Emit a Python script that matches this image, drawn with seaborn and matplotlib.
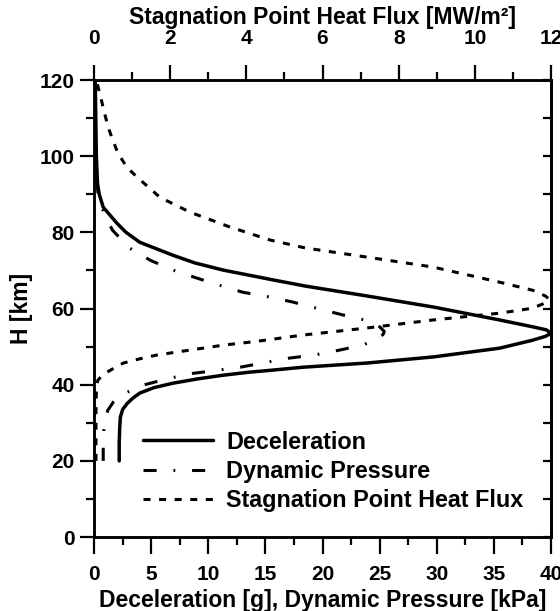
import numpy as np
import pandas as pd
import matplotlib
matplotlib.use("Agg")
import matplotlib.pyplot as plt
import seaborn as sns
from matplotlib.ticker import MultipleLocator
from matplotlib.lines import Line2D

# ---- data ----
dec_altitude_km = [20, 25, 29, 31.5, 33.5, 35.1, 36.5, 37.8, 39.2, 40.4, 41.5, 42.5, 43.3,
                   43.8, 44.6, 45.7, 47.3, 49.6, 51.7, 52.7, 53.5, 54.4, 55.2, 57.0, 60.4,
                   63.3, 65.9, 67.5, 70.1, 72.0, 74.0, 77.4, 80.0, 82.4, 86.6, 90.0, 92.9,
                   100, 110, 120]
deceleration_g = [2.2, 2.2, 2.25, 2.3, 2.5, 2.9, 3.4, 4.0, 5.2, 6.9, 9.0, 11.3, 13.6,
                  15.5, 18.3, 23.9, 29.7, 35.5, 38.4, 39.5, 40.0, 39.6, 38.4, 35.5, 29.7,
                  23.9, 18.5, 15.7, 11.3, 8.8, 6.9, 4.0, 2.8, 2.0, 0.8, 0.45, 0.3,
                  0.2, 0.15, 0.1]

dyn_altitude_km = [20, 25, 28, 30.7, 33.3, 35.5, 37.5, 39.9, 41.7, 43.0, 43.8, 44.6, 45.9,
                   47.0, 47.8, 49.1, 50.4, 52.0, 53.2, 54.0, 55.5, 57.0, 58.3, 60.0, 61.7,
                   63.0, 64.3, 66.1, 68.0, 70.1, 72.7, 75.9, 80.6, 86.3, 90, 95, 100,
                   110, 120]
dynamic_pressure_kpa = [0.8, 0.8, 0.85, 1.0, 1.2, 1.7, 2.5, 4.3, 6.6, 8.7, 10.8, 12.8, 15.1,
                        17.1, 19.3, 21.5, 23.5, 24.8, 25.3, 25.4, 24.9, 23.7, 21.8, 19.6, 17.4,
                        15.4, 13.0, 11.0, 9.0, 6.9, 4.9, 3.1, 1.6, 0.7, 0.35, 0.2, 0.12,
                        0.06, 0.03]

q_altitude_km = [20, 25, 30, 35, 38, 40, 41.2, 42.3, 43.3, 44.5, 45.7, 46.8, 47.8, 49.1,
                 50.4, 51.4, 53.0, 54.9, 57.0, 58.8, 60.1, 61.5, 62.5, 63.3, 64.8, 66.9,
                 70.9, 73.5, 75.9, 78.0, 81.4, 85.3, 89.2, 94.5, 97.0, 100.7, 104, 107.6,
                 111.5, 116, 120]
heat_flux_mw = [0.05, 0.05, 0.05, 0.05, 0.06, 0.07, 0.1, 0.2, 0.34, 0.55, 0.77, 1.2, 1.65,
                2.52, 3.4, 4.28, 5.45, 7.17, 8.9, 10.66, 11.52, 11.85, 11.95, 11.85, 11.52,
                10.66, 8.9, 7.17, 5.55, 4.62, 3.57, 2.52, 1.73, 1.13, 0.87, 0.63, 0.5,
                0.37, 0.27, 0.16, 0.06]

series_labels = ["Deceleration", "Dynamic Pressure", "Stagnation Point Heat Flux"]

df_dec = pd.DataFrame({"H": dec_altitude_km, "v": deceleration_g})
df_dyn = pd.DataFrame({"H": dyn_altitude_km, "v": dynamic_pressure_kpa})
df_q = pd.DataFrame({"H": q_altitude_km, "v": heat_flux_mw})

sns.set_theme(style="ticks")
plt.rcParams["font.family"] = ["Liberation Sans", "DejaVu Sans"]
plt.rcParams["font.weight"] = "bold"
for k in ["text.color", "axes.labelcolor", "xtick.color", "ytick.color", "axes.edgecolor"]:
    plt.rcParams[k] = "black"

fig = plt.figure(figsize=(5.6, 6.11), dpi=100)
ax = fig.add_axes([0.168, 0.121, 0.816, 0.748])

LW = 2.2
dashdot = (0, (4.3, 5.5, 0.6, 5.5))
dotted = (0, (2.3, 2.8))

sns.lineplot(data=df_dec, x="v", y="H", sort=False, estimator=None, ax=ax,
             color="black", lw=LW + 0.3, linestyle="-")
sns.lineplot(data=df_dyn, x="v", y="H", sort=False, estimator=None, ax=ax,
             color="black", lw=LW, linestyle=dashdot)

ax2 = ax.twiny()
sns.lineplot(data=df_q, x="v", y="H", sort=False, estimator=None, ax=ax2,
             color="black", lw=LW, linestyle=dotted)

ax.set_xlim(0, 40)
ax.set_ylim(0, 120)
ax2.set_xlim(0, 12)

ax.xaxis.set_major_locator(MultipleLocator(5))
ax.xaxis.set_minor_locator(MultipleLocator(2.5))
ax.yaxis.set_major_locator(MultipleLocator(20))
ax.yaxis.set_minor_locator(MultipleLocator(10))
ax2.xaxis.set_major_locator(MultipleLocator(2))
ax2.xaxis.set_minor_locator(MultipleLocator(1))

for a in (ax, ax2):
    for s in a.spines.values():
        s.set_linewidth(1.8)
        s.set_color("black")
        s.set_visible(True)

TICKFS = 15
ax.tick_params(axis="x", which="major", direction="out", length=12, width=1.6,
               labelsize=TICKFS, pad=8)
ax.tick_params(axis="x", which="minor", direction="out", length=6, width=1.6)
ax.tick_params(axis="y", which="major", direction="out", length=10, width=1.6,
               labelsize=TICKFS, pad=4)
ax.tick_params(axis="y", which="minor", direction="out", length=6, width=1.6)
ax.tick_params(axis="x", top=False, which="both")
ax.tick_params(axis="y", right=False, which="both")
ax2.tick_params(axis="x", which="major", direction="out", length=11, width=1.6,
                labelsize=TICKFS, pad=12)
ax2.tick_params(axis="x", which="minor", direction="out", length=6, width=1.6)

sec = ax.secondary_yaxis("right")
sec.yaxis.set_major_locator(MultipleLocator(10))
sec.tick_params(axis="y", direction="in", length=6, width=1.6, labelright=False)
sec.spines["right"].set_linewidth(1.8)

for lab in ax.get_xticklabels() + ax.get_yticklabels() + ax2.get_xticklabels():
    lab.set_fontweight("bold")

ax.set_xlabel("Deceleration [g], Dynamic Pressure [kPa]", fontsize=16.5, fontweight="bold", labelpad=4)
ax.set_ylabel("H [km]", fontsize=16.5, fontweight="bold", labelpad=5)
ax2.set_xlabel("Stagnation Point Heat Flux [MW/m²]", fontsize=16.5, fontweight="bold", labelpad=4)

handles = [Line2D([], [], color="black", lw=LW + 0.3, linestyle="-"),
           Line2D([], [], color="black", lw=LW, linestyle=dashdot),
           Line2D([], [], color="black", lw=LW, linestyle=dotted)]
leg = ax2.legend(handles, series_labels, loc="upper left", bbox_to_anchor=(0.107, 0.233),
                 frameon=False, handlelength=3.0, handletextpad=0.57, labelspacing=0.27,
                 borderpad=0, borderaxespad=0,
                 prop={"size": 16.8, "weight": "bold"})

fig.savefig("out.png", dpi=100)
